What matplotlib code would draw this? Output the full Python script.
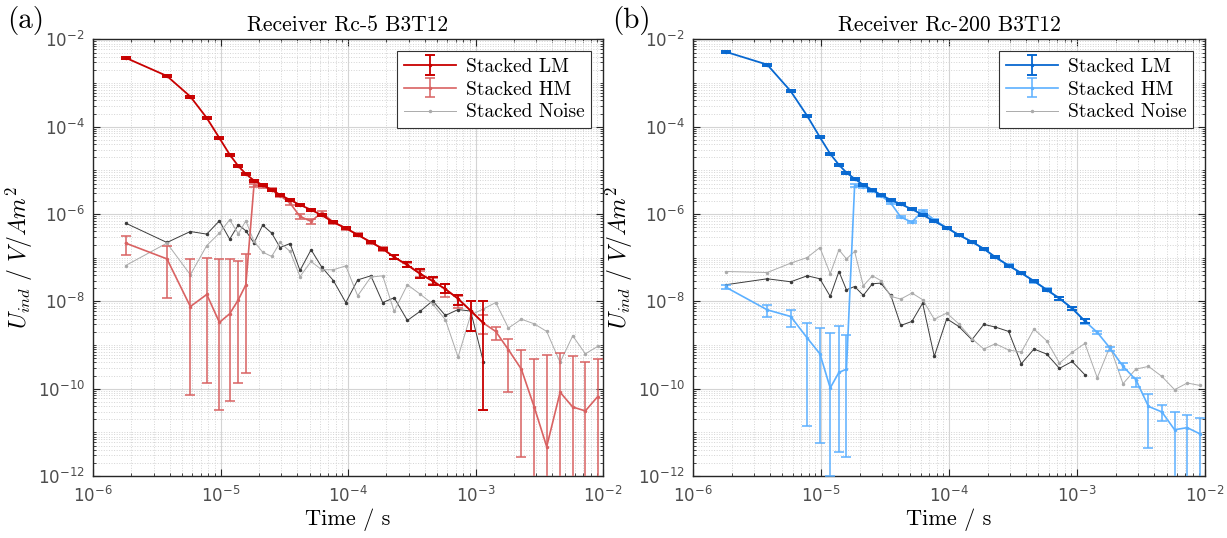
import numpy as np
import matplotlib
matplotlib.use("Agg")
import matplotlib.pyplot as plt
from matplotlib.ticker import LogLocator, NullFormatter

plt.rcParams['mathtext.fontset'] = 'stix'
plt.rcParams['axes.unicode_minus'] = False

# gate times (s)
t = [1.8e-6, 3.8e-6, 5.8e-6, 7.8e-6, 9.8e-6, 11.8e-6, 13.8e-6, 15.8e-6, 18.3e-6, 21.4e-6,
     25.2e-6, 29.3e-6, 35.1e-6, 42.0e-6, 51.3e-6, 62.2e-6, 76.7e-6, 96.0e-6, 119e-6, 151e-6,
     187e-6, 230e-6, 292e-6, 367e-6, 461e-6, 580e-6, 729e-6, 916e-6, 1151e-6, 1439e-6,
     1811e-6, 2286e-6, 2877e-6, 3614e-6, 4603e-6, 5781e-6, 7261e-6, 9078e-6]

# ---- (a) Rc-5 ----
lm_a = [3.8e-3, 1.45e-3, 4.9e-4, 1.59e-4, 5.5e-5, 2.3e-5, 1.25e-5, 8.3e-6, 5.85e-6, 4.6e-6,
        3.58e-6, 2.75e-6, 2.11e-6, 1.62e-6, 1.25e-6, 9.4e-7, 6.5e-7, 4.75e-7, 3.34e-7, 2.27e-7,
        1.6e-7, 1.03e-7, 6.8e-8, 4.3e-8, 2.92e-8, 1.91e-8, 1.15e-8, 6.1e-9, 3.18e-9]
# relative error (down, up)
lm_a_dn = [0.05] * 21 + [0.1, 0.12, 0.2, 0.2, 0.2, 0.3, 0.65, 0.99]
lm_a_up = [0.05] * 21 + [0.12, 0.15, 0.25, 0.25, 0.3, 0.2, 0.69, 2.2]

hm_a = [2.16e-7, 9.4e-8, 7.6e-9, 1.44e-8, 3.3e-9, 5.2e-9, 1.09e-8, 2.4e-8, 4.6e-6, 4.3e-6,
        3.58e-6, 2.65e-6, 1.78e-6, 8.8e-7, 6.8e-7, 1.08e-6, 6.5e-7, 4.75e-7, 3.34e-7, 2.27e-7,
        1.6e-7, 1.03e-7, 6.8e-8, 4.3e-8, 2.92e-8, 1.91e-8, 1.15e-8, 6.1e-9, 3.18e-9, 2.05e-9,
        7.8e-10, 2.8e-10, 3.9e-11, 4.7e-12, 8.3e-11, 3.8e-11, 3.1e-11, 6.6e-11]
hm_a_lo = [1.16e-7, 1.17e-8, 7.2e-11, 1.38e-10, 3.2e-11, 5.1e-11, 1.32e-10, 2.3e-10, 4.2e-6, 3.9e-6,
           3.3e-6, 2.4e-6, 1.6e-6, 7.6e-7, 6.0e-7, 9.6e-7, 5.9e-7, 4.4e-7, 3.1e-7, 2.1e-7,
           1.45e-7, 9.3e-8, 6.0e-8, 3.7e-8, 2.5e-8, 1.26e-8, 7.0e-9, 2.1e-9, 1.78e-9, 1.32e-9,
           8.5e-11, 2.7e-12, 0, 0, 0, 0, 0, 0]
hm_a_hi = [3.17e-7, 1.81e-7, 9.3e-8, 9.8e-8, 9.3e-8, 9.3e-8, 8.6e-8, 1.21e-7, 5.0e-6, 4.7e-6,
           3.9e-6, 2.9e-6, 1.95e-6, 1.0e-6, 7.6e-7, 1.2e-6, 7.1e-7, 5.1e-7, 3.6e-7, 2.45e-7,
           1.75e-7, 1.13e-7, 7.6e-8, 4.9e-8, 3.4e-8, 2.49e-8, 1.34e-8, 1.03e-8, 5.0e-9, 2.53e-9,
           1.37e-9, 7.6e-10, 4.9e-10, 5.9e-10, 6.6e-10, 5.6e-10, 4.0e-10, 4.9e-10]

noise_lm_a = [6.2e-7, 2.23e-7, 3.98e-7, 3.47e-7, 6.98e-7, 2.66e-7, 5.66e-7, 4.13e-7, 2.16e-7, 5.57e-7,
              3.66e-7, 1.71e-7, 2.11e-7, 5.1e-8, 1.52e-7, 6.1e-8, 3.0e-8, 9.4e-9, 3.1e-8, 3.85e-8,
              9.4e-9, 1.21e-8, 3.66e-9, 5.9e-9, 1.03e-8, 4.75e-9, 6.5e-9, 6.0e-9, 4.15e-10]
noise_hm_a = [6.6e-8, 2.16e-7, 4.06e-8, 1.9e-7, 3.66e-7, 7.4e-7, 3.52e-7, 7.0e-7, 2.35e-7, 1.34e-7,
              1.07e-7, 2.23e-7, 1.39e-7, 3.7e-8, 8.2e-8, 5.3e-8, 5.3e-8, 6.5e-8, 1.34e-8, 3.6e-8,
              3.85e-8, 5.9e-9, 2.4e-8, 1.47e-8, 8.7e-9, 3.8e-9, 5.3e-10, 4.9e-9, 6.7e-9, 9.4e-9,
              2.45e-9, 3.9e-9, 3.07e-9, 2.05e-9, 4.0e-10, 1.63e-9, 6.3e-10, 9.3e-10]

# ---- (b) Rc-200 ----
lm_b = [5.2e-3, 2.64e-3, 6.5e-4, 1.77e-4, 5.75e-5, 2.39e-5, 1.34e-5, 8.9e-6, 6.4e-6, 4.65e-6,
        3.58e-6, 2.75e-6, 2.11e-6, 1.68e-6, 1.29e-6, 9.6e-7, 6.8e-7, 4.83e-7, 3.34e-7, 2.31e-7,
        1.6e-7, 1.03e-7, 6.6e-8, 4.45e-8, 2.92e-8, 1.84e-8, 1.17e-8, 6.9e-9, 3.54e-9]
lm_b_dn = [0.05] * 26 + [0.08, 0.08, 0.12]
lm_b_up = [0.05] * 26 + [0.08, 0.08, 0.12]

hm_b = [2.12e-8, 6.4e-9, 4.5e-9, 1.45e-9, 6.3e-10, 1.04e-10, 2.36e-10, 2.8e-10, 4.5e-6, 4.27e-6,
        3.46e-6, 2.65e-6, 1.78e-6, 8.5e-7, 6.5e-7, 1.18e-6, 7.4e-7, 4.83e-7, 3.34e-7, 2.31e-7,
        1.6e-7, 1.03e-7, 6.6e-8, 4.45e-8, 2.92e-8, 1.84e-8, 1.17e-8, 6.9e-9, 3.54e-9, 1.95e-9,
        8.5e-10, 3.24e-10, 1.61e-10, 3.94e-11, 2.93e-11, 1.15e-11, 1.28e-11, 9.3e-12]
hm_b_lo = [1.9e-8, 4.5e-9, 2.63e-9, 1.41e-11, 5.75e-12, 1.0e-12, 3.55e-12, 2.7e-12, 4.2e-6, 4.0e-6,
           3.25e-6, 2.5e-6, 1.68e-6, 8.0e-7, 6.1e-7, 1.1e-6, 6.9e-7, 4.5e-7, 3.15e-7, 2.18e-7,
           1.5e-7, 9.7e-8, 6.2e-8, 4.15e-8, 2.7e-8, 1.7e-8, 1.07e-8, 6.3e-9, 3.1e-9, 1.82e-9,
           7.4e-10, 2.75e-10, 1.12e-10, 4.4e-12, 1.78e-11, 0, 0, 0]
hm_b_hi = [2.4e-8, 8.2e-9, 6.3e-9, 3.18e-9, 2.45e-9, 1.88e-9, 2.67e-9, 1.72e-9, 4.8e-6, 4.55e-6,
           3.7e-6, 2.8e-6, 1.9e-6, 9.0e-7, 6.9e-7, 1.26e-6, 7.9e-7, 5.15e-7, 3.55e-7, 2.45e-7,
           1.7e-7, 1.1e-7, 7.0e-8, 4.8e-8, 3.15e-8, 2.0e-8, 1.28e-8, 7.5e-9, 4.0e-9, 2.09e-9,
           9.1e-10, 3.8e-10, 1.74e-10, 7.7e-11, 4.2e-11, 2.93e-11, 2.45e-11, 2.14e-11]

noise_lm_b = [2.4e-8, 3.29e-8, 2.81e-8, 3.85e-8, 3.29e-8, 1.3e-8, 4.83e-8, 1.84e-8, 2.19e-8, 1.37e-8,
              2.53e-8, 2.62e-8, 1.37e-8, 2.81e-9, 3.47e-9, 9.1e-9, 5.5e-10, 4.0e-9, 2.67e-9, 1.32e-9,
              2.97e-9, 2.58e-9, 2.05e-9, 3.73e-10, 8.1e-10, 6.2e-10, 2.92e-10, 4.2e-10, 2.09e-10]
noise_hm_b = [4.83e-8, 4.58e-8, 7.5e-8, 1.01e-7, 1.71e-7, 4.28e-8, 1.52e-7, 9.4e-8, 1.39e-7, 2.28e-8,
              3.85e-8, 3.0e-8, 1.3e-8, 1.13e-8, 1.55e-8, 1.09e-8, 3.9e-9, 5.4e-9, 3.07e-9, 1.39e-9,
              8.1e-10, 1.07e-9, 7.7e-10, 6.9e-10, 2.32e-9, 1.25e-9, 3.86e-10, 6.8e-10, 1.09e-9, 1.78e-10,
              9.3e-10, 1.3e-10, 2.8e-10, 3.24e-10, 1.91e-10, 9.5e-11, 1.35e-10, 1.19e-10]

panels = [
    dict(title='Receiver Rc-5 B3T12', tag='(a)', lm=lm_a, lm_dn=lm_a_dn, lm_up=lm_a_up,
         hm=hm_a, hm_lo=hm_a_lo, hm_hi=hm_a_hi, n_lm=noise_lm_a, n_hm=noise_hm_a,
         c_lm='#C80000', c_hm='#D96262'),
    dict(title='Receiver Rc-200 B3T12', tag='(b)', lm=lm_b, lm_dn=lm_b_dn, lm_up=lm_b_up,
         hm=hm_b, hm_lo=hm_b_lo, hm_hi=hm_b_hi, n_lm=noise_lm_b, n_hm=noise_hm_b,
         c_lm='#0868D0', c_hm='#5CB0FF'),
]

CM = 'cmr10'
fig = plt.figure(figsize=(12.27, 5.38), dpi=100)
axes = [fig.add_axes([0.0758, 0.1152, 0.4157, 0.8116]),
        fig.add_axes([0.5648, 0.1152, 0.4173, 0.8116])]

tt = np.array(t)
for ax, p in zip(axes, panels):
    n = len(p['lm'])
    lm = np.array(p['lm'])
    hm = np.array(p['hm'])

    # noise
    ax.plot(tt[:n], p['n_lm'], color='#3C3C3C', lw=0.7, marker='.', ms=3, zorder=2)
    ln, = ax.plot(tt, p['n_hm'], color='#ABABAB', lw=0.7, marker='.', ms=3, zorder=2,
                  label='Stacked Noise')

    # HM
    hm_err = [hm - np.array(p['hm_lo']), np.array(p['hm_hi']) - hm]
    e_hm = ax.errorbar(tt, hm, yerr=hm_err, color=p['c_hm'], lw=1.2, marker='.', ms=3,
                       capsize=3.5, elinewidth=1.1, capthick=1.1, zorder=3, label='Stacked HM')
    # LM
    lm_err = [lm * np.array(p['lm_dn']), lm * np.array(p['lm_up'])]
    e_lm = ax.errorbar(tt[:n], lm, yerr=lm_err, color=p['c_lm'], lw=1.3, marker='.', ms=3,
                       capsize=3.5, elinewidth=1.3, capthick=1.4, zorder=4, label='Stacked LM')

    ax.set_xscale('log')
    ax.set_yscale('log')
    ax.set_xlim(1e-6, 1e-2)
    ax.set_ylim(1e-12, 1e-2)
    ax.set_xticks([1e-6, 1e-5, 1e-4, 1e-3, 1e-2])
    ax.set_yticks([1e-12, 1e-10, 1e-8, 1e-6, 1e-4, 1e-2])
    ax.xaxis.set_minor_locator(LogLocator(base=10, subs=np.arange(2, 10), numticks=50))
    ax.yaxis.set_minor_locator(LogLocator(base=10, subs=np.arange(1, 10), numticks=50))
    ax.xaxis.set_minor_formatter(NullFormatter())
    ax.yaxis.set_minor_formatter(NullFormatter())

    ax.grid(True, which='major', color='#D4D4D4', lw=0.8)
    ax.grid(True, which='minor', color='#D4D4D4', lw=0.7, ls=':')
    ax.set_axisbelow(True)
    ax.tick_params(which='both', direction='in', top=True, right=True, color='#262626')
    ax.tick_params(which='major', length=5, width=0.8, labelsize=12, labelcolor='#4D4D4D')
    ax.tick_params(axis='x', which='major', pad=7)
    ax.tick_params(axis='y', which='major', pad=6)
    ax.tick_params(which='minor', length=2.5, width=0.6)
    for s in ax.spines.values():
        s.set_color('#262626')
        s.set_linewidth(1.0)

    ax.set_title(p['title'], family=CM, fontsize=15.5, pad=6)
    ax.set_xlabel('Time / s', family=CM, fontsize=16, labelpad=2)
    ax.set_ylabel(r'$U_{ind}\ /\ V/Am^2$', fontsize=17, math_fontfamily='cm', labelpad=2)

    leg = ax.legend(handles=[e_lm, e_hm, ln], loc='upper right', prop={'family': CM, 'size': 14},
                    fancybox=False, framealpha=1, edgecolor='#333333', handlelength=2.7,
                    labelspacing=0.25, borderpad=0.35, borderaxespad=0.6, handletextpad=0.5)
    leg.get_frame().set_linewidth(0.8)

fig.text(0.006, 0.962, '(a)', family=CM, fontsize=21, va='center', ha='left')
fig.text(0.499, 0.962, '(b)', family=CM, fontsize=21, va='center', ha='left')

fig.savefig('out.png', dpi=100)
